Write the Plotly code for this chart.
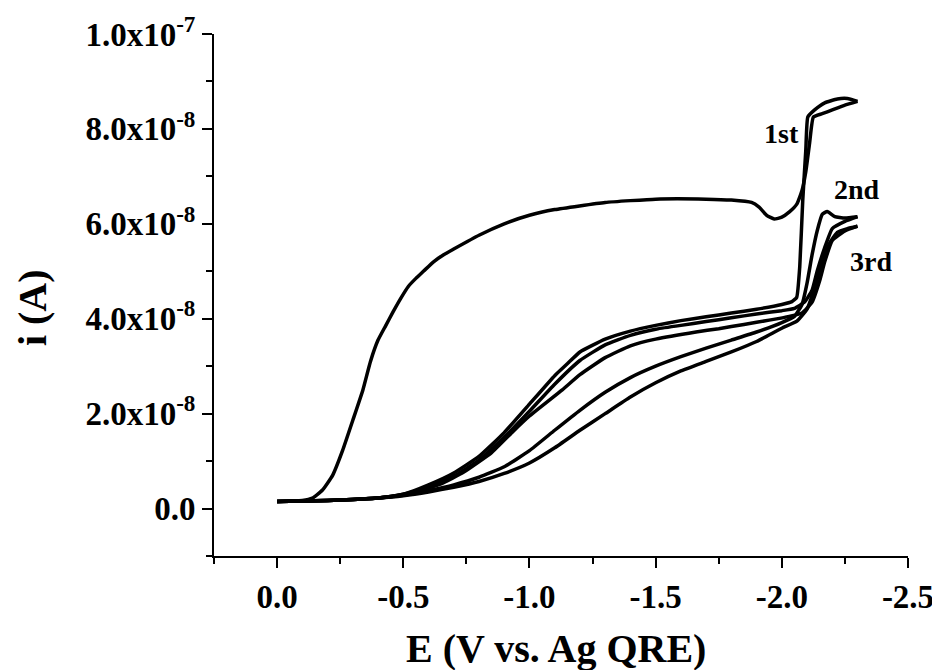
import plotly.graph_objects as go

# ---------------- data (E in V, i in units of 1e-8 A) ----------------
scan1_fwd_E = [0.0, -0.1, -0.2, -0.3, -0.4, -0.5, -0.6, -0.7, -0.8, -0.9, -1.0, -1.1, -1.15, -1.2, -1.3,
               -1.4, -1.5, -1.6, -1.7, -1.8, -1.9, -2.0, -2.04, -2.059, -2.071, -2.083, -2.095, -2.103,
               -2.13, -2.17, -2.22, -2.26, -2.3]
scan1_fwd_i = [0.15, 0.16, 0.17, 0.19, 0.22, 0.3, 0.5, 0.75, 1.1, 1.6, 2.2, 2.8, 3.05, 3.3, 3.57,
               3.74, 3.86, 3.96, 4.04, 4.12, 4.2, 4.3, 4.36, 4.45, 5.09, 6.5, 7.55, 8.25,
               8.4, 8.55, 8.63, 8.64, 8.58]

scan1_rev_E = [-2.3, -2.25, -2.2, -2.16, -2.125, -2.11, -2.095, -2.08, -2.06, -2.03, -2.0, -1.97,
               -1.94, -1.91, -1.88, -1.8, -1.7, -1.5, -1.3, -1.1, -1.0, -0.9, -0.8, -0.7, -0.66, -0.62,
               -0.58, -0.55, -0.52, -0.49, -0.46, -0.43, -0.4, -0.37, -0.34, -0.3, -0.26, -0.22, -0.18,
               -0.14, -0.1, -0.05, 0.0]
scan1_rev_i = [8.58, 8.5, 8.4, 8.32, 8.25, 7.7, 7.1, 6.7, 6.42, 6.25, 6.14, 6.1,
               6.18, 6.35, 6.45, 6.5, 6.52, 6.52, 6.45, 6.3, 6.18, 6.0, 5.76, 5.47, 5.35, 5.2,
               5.0, 4.85, 4.68, 4.43, 4.15, 3.85, 3.55, 3.1, 2.5, 1.86, 1.23, 0.7, 0.39,
               0.22, 0.17, 0.16, 0.15]

scan2_fwd_E = [0.0, -0.1, -0.2, -0.3, -0.4, -0.5, -0.6, -0.7, -0.8, -0.9, -1.0, -1.1, -1.2, -1.3, -1.4,
               -1.5, -1.6, -1.7, -1.8, -1.9, -2.0, -2.05, -2.08, -2.1, -2.12, -2.14, -2.16, -2.18,
               -2.21, -2.25, -2.3]
scan2_fwd_i = [0.15, 0.16, 0.17, 0.19, 0.22, 0.28, 0.38, 0.5, 0.66, 0.88, 1.22, 1.65, 2.07, 2.45, 2.76,
               3.0, 3.2, 3.38, 3.55, 3.72, 3.92, 4.05, 4.3, 4.75, 5.35, 5.85, 6.2, 6.26,
               6.15, 6.12, 6.15]

scan2_rev_E = [-2.3, -2.25, -2.2, -2.17, -2.14, -2.12, -2.09, -2.05, -2.0, -1.9, -1.8, -1.7, -1.6, -1.5,
               -1.4, -1.3, -1.2, -1.1, -1.0, -0.9, -0.8, -0.7, -0.6, -0.5, -0.4, -0.3, -0.2, -0.1, 0.0]
scan2_rev_i = [6.15, 6.05, 5.9, 5.5, 5.0, 4.6, 4.35, 4.22, 4.17, 4.1, 4.02, 3.94, 3.86, 3.78,
               3.65, 3.45, 3.12, 2.62, 2.05, 1.5, 1.02, 0.68, 0.45, 0.3, 0.22, 0.19, 0.17, 0.16, 0.15]

scan3_fwd_E = [0.0, -0.1, -0.2, -0.3, -0.4, -0.5, -0.6, -0.7, -0.8, -0.9, -1.0, -1.1, -1.2, -1.3, -1.4,
               -1.5, -1.6, -1.7, -1.8, -1.9, -2.0, -2.06, -2.1, -2.13, -2.16, -2.19, -2.22, -2.26, -2.3]
scan3_fwd_i = [0.15, 0.16, 0.17, 0.19, 0.22, 0.27, 0.35, 0.45, 0.57, 0.74, 0.96, 1.28, 1.65, 2.0, 2.35,
               2.65, 2.9, 3.1, 3.3, 3.52, 3.8, 3.95, 4.2, 4.65, 5.2, 5.6, 5.82, 5.9, 5.95]

scan3_rev_E = [-2.3, -2.25, -2.2, -2.17, -2.15, -2.12, -2.08, -2.03, -1.95, -1.85, -1.75, -1.66, -1.5,
               -1.4, -1.3, -1.2, -1.13, -1.0, -0.93, -0.85, -0.74, -0.65, -0.55, -0.5, -0.4, -0.3,
               -0.2, -0.1, 0.0]
scan3_rev_i = [5.95, 5.85, 5.65, 5.2, 4.8, 4.35, 4.12, 4.05, 3.97, 3.88, 3.79, 3.72, 3.57,
               3.43, 3.18, 2.82, 2.5, 1.95, 1.6, 1.18, 0.77, 0.52, 0.35, 0.29, 0.22, 0.19,
               0.17, 0.16, 0.15]

x_tick_vals = [0.0, -0.5, -1.0, -1.5, -2.0, -2.5]
x_tick_text = ["0.0", "-0.5", "-1.0", "-1.5", "-2.0", "-2.5"]
x_minor_vals = [0.25, -0.25, -0.75, -1.25, -1.75, -2.25]

y_tick_vals = [0.0, 2e-8, 4e-8, 6e-8, 8e-8, 1e-7]
y_tick_text = ["0.0", "2.0x10<sup>-8</sup>", "4.0x10<sup>-8</sup>", "6.0x10<sup>-8</sup>",
               "8.0x10<sup>-8</sup>", "1.0x10<sup>-7</sup>"]
y_minor_vals = [-1e-8, 1e-8, 3e-8, 5e-8, 7e-8, 9e-8]

label_text = ["1st", "2nd", "3rd"]
label_E = [-2.0, -2.297, -2.353]
label_i = [7.9e-8, 6.72e-8, 5.2e-8]

UNIT = 1e-8
FONT = "Liberation Serif, Times New Roman, serif"

fig = go.Figure()
branches = [
    (scan1_fwd_E, scan1_fwd_i), (scan1_rev_E, scan1_rev_i),
    (scan2_fwd_E, scan2_fwd_i), (scan2_rev_E, scan2_rev_i),
    (scan3_fwd_E, scan3_fwd_i), (scan3_rev_E, scan3_rev_i),
]
for E, i in branches:
    fig.add_trace(go.Scatter(
        x=E, y=[v * UNIT for v in i], mode="lines",
        line=dict(color="black", width=3.5, shape="spline", smoothing=0.4),
        showlegend=False, hoverinfo="skip"))

for t, e, c in zip(label_text, label_E, label_i):
    fig.add_annotation(x=e, y=c, xref="x", yref="y", text="<b>%s</b>" % t, showarrow=False,
                       font=dict(family=FONT, size=28, color="black"))

fig.add_annotation(x=0.4928, y=-0.178, xref="paper", yref="paper", text="<b>E (V vs. Ag QRE)</b>",
                   showarrow=False, font=dict(family=FONT, size=40, color="black"),
                   xanchor="center", yanchor="middle")
fig.add_annotation(x=-0.2622, y=0.475, xref="paper", yref="paper", text="<b>i (A)</b>",
                   showarrow=False, textangle=-90, font=dict(family=FONT, size=40, color="black"),
                   xanchor="center", yanchor="middle")

axis_common = dict(showline=True, linecolor="black", linewidth=2, showgrid=False, zeroline=False,
                   ticks="outside", ticklen=10, tickwidth=2, tickcolor="black", automargin=False,
                   tickfont=dict(family=FONT, size=33, color="black", weight="bold"))

fig.update_xaxes(range=[0.25, -2.5], tickmode="array", tickvals=x_tick_vals, ticktext=x_tick_text,
                 minor=dict(tickvals=x_minor_vals, ticks="outside", ticklen=6, tickwidth=2,
                            tickcolor="black"),
                 **axis_common)
fig.update_yaxes(range=[-1e-8, 1e-7], tickmode="array", tickvals=y_tick_vals, ticktext=y_tick_text,
                 minor=dict(tickvals=y_minor_vals, ticks="outside", ticklen=6, tickwidth=2,
                            tickcolor="black"),
                 **axis_common)

# page body adds an 8px offset; margins compensate for it
fig.update_layout(width=940, height=670, autosize=False,
                  margin=dict(l=206, r=40, t=26, b=122),
                  plot_bgcolor="white", paper_bgcolor="white",
                  font=dict(family=FONT, color="black"))

fig.write_html("out.html")
